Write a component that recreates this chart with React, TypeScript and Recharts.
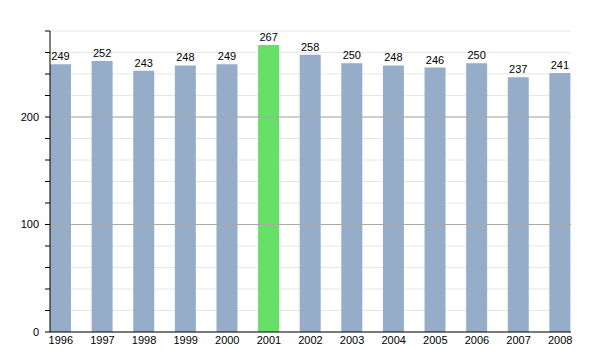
import React from "react";
import { BarChart, Bar, XAxis, YAxis, CartesianGrid, ReferenceLine, LabelList, Cell } from "recharts";

const years = ["1996", "1997", "1998", "1999", "2000", "2001", "2002", "2003", "2004", "2005", "2006", "2007", "2008"];
const values = [249, 252, 243, 248, 249, 267, 258, 250, 248, 246, 250, 237, 241];
const highlightYear = "2001";
const yTicks = [0, 20, 40, 60, 80, 100, 120, 140, 160, 180, 200, 220, 240, 260, 280];
const yLabelled = [0, 100, 200];
const majorLines = [100, 200];

const data = years.map((y, i) => ({ year: y, value: values[i] }));

const font = "'Liberation Sans', Arial, sans-serif";

export default function App() {
  return (
    <div style={{ width: 592, height: 342 }}>
      <BarChart
        width={592}
        height={342}
        data={data}
        margin={{ top: 23, right: 29, bottom: 0, left: 0 }}
        barCategoryGap={20}
      >
        <CartesianGrid vertical={false} stroke="#e6e6e6" horizontalValues={yTicks} />
        {majorLines.map((v) => (
          <ReferenceLine key={v} y={v} stroke="#a8a8a8" strokeWidth={1} />
        ))}
        <XAxis
          dataKey="year"
          padding={{ left: -10, right: -10 }}
          tickLine={false}
          tickSize={3}
          tickMargin={1}
          interval={0}
          height={18}
          axisLine={{ stroke: "#000" }}
          tick={{ fontSize: 11, fill: "#000", fontFamily: font }}
        />
        <YAxis
          domain={[0, 280]}
          ticks={yTicks}
          interval={0}
          width={42}
          tickSize={5}
          tickMargin={6}
          axisLine={{ stroke: "#000" }}
          tickLine={{ stroke: "#000" }}
          tickFormatter={(v: number) => (yLabelled.includes(v) ? String(v) : "")}
          tick={{ fontSize: 11, fill: "#000", fontFamily: font }}
        />
        <Bar dataKey="value" isAnimationActive={false} barSize={21}>
          {data.map((d) => (
            <Cell key={d.year} fill={d.year === highlightYear ? "#66e066" : "#95adc8"} />
          ))}
          <LabelList dataKey="value" position="top" offset={4} style={{ fontSize: 11, fill: "#000", fontFamily: font }} />
        </Bar>
      </BarChart>
    </div>
  );
}
